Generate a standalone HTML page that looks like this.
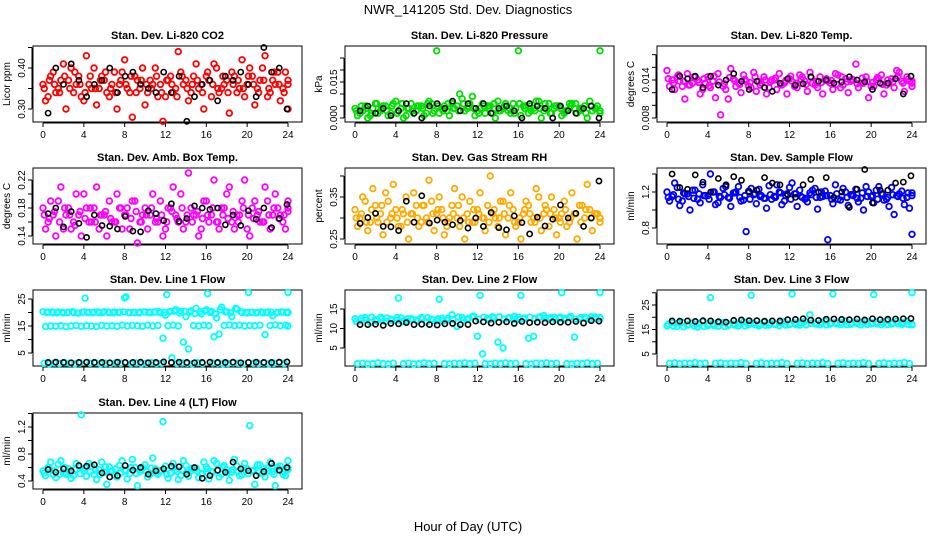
<!DOCTYPE html>
<html><head><meta charset="utf-8"><style>
body{margin:0;background:#fff}
svg{display:block;font-family:"Liberation Sans",sans-serif}
</style></head><body>
<svg id="chart" width="936" height="540" viewBox="0 0 936 540">
<text x="468" y="14" text-anchor="middle" font-size="13">NWR_141205  Std. Dev. Diagnostics</text>
<text x="468" y="531" text-anchor="middle" font-size="13">Hour of Day (UTC)</text>
</svg>
<script>
const xTicks=[0,4,8,12,16,20,24];
const co2A=[0.36,0.33,0.39,0.35,0.41,0.37,0.34,0.38,0.32,0.36,0.40,0.35,0.37,0.33,0.39,0.36,0.42,0.34,0.38,0.35,0.31,0.37,0.40,0.36,0.33,0.38,0.35,0.39,0.37,0.34,0.41,0.36,0.38,0.33,0.40,0.35,0.37,0.39,0.34,0.42,0.36,0.38,0.35,0.40,0.33,0.37,0.39,0.35,0.36];
const co2B=[0.32,0.38,0.34,0.37,0.30,0.40,0.36,0.33,0.43,0.35,0.31,0.38,0.34,0.36,0.30,0.39,0.35,0.28,0.37,0.40,0.34,0.36,0.33,0.27,0.37,0.34,0.44,0.36,0.32,0.38,0.35,0.30,0.37,0.41,0.34,0.36,0.29,0.38,0.35,0.33,0.40,0.31,0.37,0.43,0.34,0.36,0.32,0.39,0.30];
const co2C=[0.35,0.37,0.36,0.34,0.38,0.35,0.39,0.36,0.34,0.38,0.35,0.37,0.39,0.35,0.34,0.37,0.36,0.38,0.34,0.37,0.36,0.35,0.38,0.34,0.37,0.36,0.33,0.38,0.35,0.36,0.37,0.34,0.39,0.36,0.35,0.38,0.34,0.36,0.37,0.35,0.38,0.36,0.34,0.37,0.35,0.39,0.36,0.34,0.37];
const co2K=[0.29,0.40,0.36,0.41,0.37,0.33,0.36,0.37,0.40,0.34,0.38,0.39,0.36,0.35,0.34,0.39,0.34,0.38,0.27,0.33,0.36,0.37,0.32,0.38,0.37,0.39,0.36,0.33,0.45,0.39,0.40,0.30];
const presA=[.004,.002,.005,.001,.006,.003,.005,.002,.007,.004,.001,.006,.003,.005,.002,.006,.028,.004,.003,.006,.005,.008,.004,.009,.003,.006,.005,.002,.007,.004,.003,.006,.028,.005,.002,.004,.007,.003,.006,.004,.005,.002,.006,.004,.003,.005,.007,.004,.028];
const presB=[.001,.003,.000,.004,.002,.005,.001,.006,.003,.000,.004,.002,.005,.001,.007,.003,.002,.005,.001,.004,.010,.003,.006,.001,.004,.002,.005,.000,.003,.006,.002,.004,.001,.005,.003,.007,.000,.004,.002,.005,.001,.003,.006,.002,.004,.000,.003,.005,.002];
const presC=[.003,.005,.004,.002,.006,.004,.003,.005,.002,.006,.004,.003,.005,.004,.006,.002,.005,.003,.006,.004,.003,.006,.005,.004,.002,.005,.004,.006,.003,.005,.004,.002,.006,.004,.005,.003,.004,.006,.002,.005,.004,.003,.005,.006,.004,.002,.005,.004,.003];
const presK=[.003,.005,.002,.004,.001,.003,.006,.002,.000,.005,.006,.004,.007,.003,.006,.004,.006,.002,.004,.005,.003,.000,.006,.005,.004,.000,.005,.003,.002,.004,.005,.000];
const tempA=[.0155,.014,.0145,.013,.015,.0135,.014,.0125,.0145,.0138,.015,.013,.011,.0142,.0135,.0148,.013,.0152,.0138,.0145,.0128,.014,.015,.0135,.0142,.013,.0148,.0138,.0152,.0132,.0145,.014,.0135,.015,.0128,.0142,.0138,.0165,.0135,.0145,.013,.014,.0148,.0132,.0142,.0155,.0138,.0145,.0135];
const tempB=[.013,.0125,.0138,.011,.0132,.0145,.0118,.0135,.0128,.0112,.0085,.0125,.0158,.013,.012,.0138,.0128,.0122,.0135,.0118,.014,.0125,.0132,.0118,.0138,.0128,.0145,.0122,.0135,.0128,.0118,.0138,.0125,.0148,.0132,.012,.014,.0128,.0135,.0112,.013,.0142,.0118,.0135,.0128,.0152,.0122,.0138,.013];
const tempC=[.0142,.0135,.0148,.0138,.0132,.0145,.0136,.0142,.0131,.0146,.0137,.0134,.0144,.0139,.0133,.0141,.0136,.0145,.0132,.0140,.0137,.0143,.0134,.0139,.0146,.0135,.0141,.0133,.0144,.0138,.0136,.0142,.0139,.0133,.0145,.0137,.0141,.0134,.0143,.0138,.0136,.0144,.0133,.0140,.0137,.0146,.0135,.0141,.0138];
const tempK=[.0125,.0146,.0142,.0146,.0128,.0146,.0132,.0140,.0150,.0138,.0125,.0138,.0128,.0122,.0135,.0142,.0132,.0134,.0145,.0138,.0140,.0135,.0137,.0145,.0140,.0137,.0125,.0135,.0135,.0142,.0118,.0146];
const ambA=[.18,.16,.17,.19,.15,.18,.16,.17,.20,.16,.18,.15,.17,.19,.16,.18,.17,.15,.19,.16,.18,.17,.16,.19,.15,.18,.17,.20,.16,.18,.17,.15,.19,.17,.16,.18,.20,.16,.17,.19,.15,.18,.17,.16,.19,.17,.18,.16,.18];
const ambB=[.15,.19,.14,.21,.17,.15,.20,.14,.18,.16,.21,.17,.14,.16,.20,.15,.18,.19,.13,.17,.15,.20,.16,.14,.18,.21,.16,.15,.23,.17,.14,.19,.16,.22,.15,.18,.21,.15,.17,.22,.14,.19,.16,.21,.15,.20,.17,.15,.19];
const ambC=[.17,.165,.175,.16,.18,.17,.155,.175,.165,.18,.16,.17,.175,.165,.16,.18,.17,.165,.175,.16,.17,.18,.165,.17,.16,.175,.165,.18,.17,.16,.175,.165,.17,.18,.16,.17,.165,.175,.16,.18,.17,.165,.175,.16,.17,.18,.165,.17,.175];
const ambK=[.172,.18,.153,.175,.158,.138,.17,.155,.154,.15,.168,.147,.146,.176,.172,.162,.186,.161,.165,.183,.18,.178,.18,.156,.17,.155,.176,.164,.18,.152,.165,.185];
const rhA=[.32,.30,.34,.29,.33,.31,.36,.30,.32,.28,.35,.31,.33,.29,.30,.34,.31,.32,.28,.33,.30,.35,.31,.29,.32,.30,.33,.31,.28,.34,.30,.32,.29,.31,.33,.30,.35,.31,.28,.32,.30,.34,.29,.31,.33,.30,.32,.31,.30];
const rhB=[.28,.35,.27,.37,.29,.26,.34,.38,.28,.31,.25,.36,.28,.33,.39,.27,.35,.26,.30,.37,.28,.25,.34,.29,.36,.27,.40,.30,.34,.26,.36,.28,.25,.34,.29,.37,.27,.32,.35,.26,.31,.28,.36,.25,.33,.38,.27,.31,.29];
const rhC=[.30,.31,.29,.32,.30,.33,.29,.31,.30,.32,.29,.31,.30,.33,.29,.31,.32,.30,.29,.31,.33,.30,.29,.32,.31,.30,.29,.32,.30,.31,.33,.29,.30,.32,.31,.29,.30,.33,.31,.30,.29,.32,.30,.31,.29,.32,.30,.31,.30];
const rhK=[.287,.301,.311,.28,.279,.27,.34,.29,.353,.288,.295,.29,.284,.294,.276,.30,.28,.313,.277,.272,.305,.289,.262,.302,.281,.297,.331,.30,.311,.28,.30,.388];
const flowA=[1.20,1.15,1.25,1.10,1.18,1.22,1.12,1.28,1.16,1.20,1.08,1.24,1.14,1.19,1.26,1.11,1.21,1.17,1.23,1.13,1.27,1.15,1.20,1.10,1.25,1.18,1.22,1.12,1.19,1.24,1.14,1.21,1.16,1.28,1.11,1.20,1.17,1.23,1.13,1.26,1.15,1.22,1.18,1.12,1.25,1.16,1.21,1.14,1.19];
const flowB=[1.10,1.30,1.05,1.18,1.00,1.22,1.08,1.16,1.40,1.06,1.14,1.26,1.04,1.20,1.10,0.76,1.24,1.07,1.16,1.02,1.12,1.28,1.06,1.18,1.30,1.04,1.14,1.09,1.22,1.01,1.15,0.67,1.07,1.12,1.24,1.05,1.16,1.09,1.00,1.20,1.08,1.26,1.11,1.04,0.95,1.18,1.06,1.02,0.73];
const flowC=[1.14,1.17,1.12,1.19,1.15,1.13,1.18,1.16,1.12,1.20,1.15,1.17,1.13,1.19,1.14,1.16,1.12,1.18,1.15,1.13,1.17,1.14,1.19,1.16,1.12,1.18,1.15,1.13,1.17,1.14,1.20,1.16,1.12,1.18,1.15,1.14,1.17,1.13,1.19,1.15,1.16,1.12,1.18,1.14,1.17,1.15,1.13,1.19,1.16];
const flowK=[1.40,1.25,1.23,1.39,1.31,1.20,1.35,1.28,1.37,1.33,1.20,1.22,1.36,1.30,1.28,1.17,1.14,1.28,1.34,1.20,1.36,1.14,1.20,1.03,1.23,1.45,1.08,1.22,1.22,1.30,1.31,1.38];
const l1A=[20.3,20.1,20.0,20.2,19.9,20.1,20.0,19.8,20.2,20.0,20.1,19.9,20.3,20.0,20.2,20.1,25.4,19.9,20.0,20.1,20.2,20.0,20.3,19.9,19.0,20.4,21.0,20.5,18.5,20.6,21.5,19.5,21.0,20.5,18.0,22.0,20.3,18.5,21.2,20.0,19.8,20.1,20.0,19.9,20.2,18.8,20.0,20.1,20.0];
const l1B=[14.8,15.0,14.9,15.1,14.8,15.0,15.2,14.9,15.1,15.0,14.8,15.2,15.0,15.1,14.9,15.3,15.0,15.2,15.1,14.9,15.3,15.0,15.2,10.5,15.1,15.3,15.0,9.0,6.5,15.2,15.0,15.3,15.1,11.0,12.0,15.2,15.4,15.1,15.3,15.0,15.2,15.1,15.3,11.8,15.2,15.4,15.1,15.3,15.0];
const l1C=[1.2,1.0,1.3,1.1,1.4,1.2,1.0,1.3,25.3,1.2,1.4,1.0,1.2,1.1,1.3,1.2,25.8,1.1,1.3,1.0,1.2,1.4,1.1,1.2,26.6,3.2,1.1,1.3,1.2,1.0,1.4,1.1,27.0,1.3,1.2,1.0,1.1,1.3,1.2,1.0,27.4,1.2,1.1,1.3,1.0,1.2,1.4,1.1,27.4];
const l1D=[20.0,20.2,19.9,20.1,20.0,20.3,19.8,20.1,20.0,19.9,20.2,20.0,20.1,19.9,20.0,20.2,20.0,20.1,19.9,20.2,20.0,20.1,20.3,20.0,20.2,20.5,19.8,20.4,20.1,19.6,20.3,20.6,20.0,19.5,21.0,20.2,19.9,21.5,20.3,20.0,20.1,19.9,20.2,20.0,20.1,19.9,20.2,20.0,20.1];
const l1K=[1.5,1.6,1.5,1.4,1.5,1.6,1.5,1.5,1.4,1.6,1.5,1.5,1.6,1.4,1.5,1.7,1.5,1.6,1.5,1.4,1.5,1.6,1.5,1.5,1.6,1.4,1.5,1.6,1.5,1.5,1.6,1.7];
const l2A=[12.5,12.0,12.8,11.6,12.3,12.9,11.8,12.4,12.1,12.7,11.9,12.5,12.2,12.8,11.7,12.4,12.0,12.6,12.2,13.5,10.5,12.8,12.3,13.0,8.0,3.5,12.6,13.0,6.5,5.0,12.7,12.3,12.9,12.5,7.5,8.0,12.8,13.3,12.4,12.9,12.6,12.2,12.8,7.8,12.5,12.9,12.3,13.0,12.6];
const l2B=[1.0,1.1,0.9,1.0,1.2,1.0,0.9,1.1,17.8,1.0,1.1,0.9,1.0,1.2,1.0,1.1,17.5,1.0,0.9,1.1,1.0,1.2,1.0,1.1,18.5,1.0,0.9,1.1,1.0,1.2,1.0,1.1,18.5,1.0,0.9,1.1,1.0,1.2,1.0,1.1,19.2,1.0,0.9,1.1,1.0,1.2,1.0,1.1,19.2];
const l2C=[11.8,12.6,12.2,12.9,11.9,12.4,12.7,12.1,12.8,11.8,12.5,12.3,11.9,12.6,12.8,12.1,12.5,11.9,12.7,12.3,12.9,12.2,12.6,13.2,12.4,12.9,12.2,12.7,13.0,12.4,12.8,13.1,12.3,12.7,12.9,12.5,13.0,12.6,12.8,12.3,12.9,12.6,13.1,12.4,12.8,12.6,13.0,12.5,12.8];
const l2K=[11.0,11.0,11.1,10.8,11.3,11.2,11.5,11.0,11.1,11.0,10.9,11.2,11.3,11.0,11.0,11.9,11.7,11.4,11.6,11.7,11.3,11.8,11.5,11.6,11.5,11.7,11.6,11.6,11.8,11.4,12.0,11.9];
const l3A=[16.5,17.8,16.2,18.0,16.8,17.5,16.0,18.2,16.6,17.4,16.3,17.9,16.7,17.2,16.4,18.1,16.9,17.6,16.5,18.0,16.8,17.3,16.6,18.2,17.0,17.7,16.8,18.3,21.0,17.5,16.9,18.4,17.2,17.8,17.0,18.5,17.1,18.0,16.9,18.4,17.3,18.1,17.0,18.6,17.2,18.3,17.1,18.5,17.2];
const l3B=[1.2,1.4,1.1,1.3,1.2,1.5,1.1,1.3,28.0,1.2,1.4,1.1,1.3,1.2,1.5,1.1,29.0,1.2,1.4,1.1,1.3,1.2,1.5,1.1,29.5,1.2,1.4,1.1,1.3,1.2,1.5,1.1,29.5,1.2,1.4,1.1,1.3,1.2,1.5,1.1,29.3,1.2,1.4,1.1,1.3,1.2,1.5,1.1,30.0];
const l3C=[17.2,16.4,17.6,16.1,17.0,16.5,17.5,16.3,17.3,16.6,17.7,16.2,17.1,16.8,17.4,16.5,17.6,16.9,17.2,16.7,17.5,17.0,17.8,16.8,17.4,17.1,17.7,16.9,17.5,17.2,17.9,16.9,17.6,17.3,17.8,17.0,17.6,17.4,17.9,17.1,17.7,17.3,17.9,17.0,17.6,17.4,17.8,17.1,16.9];
const l3K=[18.5,18.4,18.5,18.3,18.6,18.5,18.2,18.0,18.7,18.9,18.6,18.6,18.4,18.5,18.5,19.0,19.1,19.4,18.8,18.7,19.2,19.3,19.1,19.0,19.3,18.9,19.4,19.0,19.2,19.3,19.4,19.5];
const l4A=[0.55,0.60,0.50,0.65,0.52,0.58,0.48,0.62,0.55,0.66,0.50,0.57,0.53,0.61,0.49,0.63,0.56,0.51,0.60,0.54,0.64,0.50,0.58,0.55,0.62,0.52,0.57,0.48,0.63,0.55,0.59,0.51,0.61,0.54,0.66,0.50,0.57,0.53,0.62,0.49,0.58,0.55,0.64,0.51,0.59,0.54,0.61,0.50,0.57];
const l4B=[0.48,0.68,0.45,0.70,0.50,0.44,0.66,1.38,0.47,0.62,0.42,0.68,0.35,0.55,0.46,0.70,0.43,0.72,0.33,0.60,0.46,0.74,0.50,1.28,0.44,0.66,0.42,0.70,0.47,0.58,0.45,0.68,0.43,0.70,0.46,0.63,0.41,0.72,0.48,0.66,1.22,0.35,0.64,0.46,0.68,0.33,0.62,0.48,0.70];
const l4C=[0.52,0.58,0.55,0.50,0.60,0.53,0.57,0.51,0.59,0.54,0.56,0.50,0.61,0.53,0.58,0.52,0.55,0.60,0.51,0.57,0.54,0.59,0.52,0.56,0.50,0.60,0.54,0.57,0.52,0.59,0.55,0.51,0.58,0.53,0.56,0.60,0.52,0.57,0.54,0.59,0.51,0.56,0.53,0.58,0.55,0.50,0.57,0.54,0.59];
const l4K=[0.57,0.53,0.58,0.55,0.63,0.62,0.64,0.52,0.46,0.48,0.63,0.56,0.60,0.50,0.55,0.58,0.62,0.61,0.50,0.60,0.44,0.48,0.56,0.53,0.68,0.58,0.55,0.48,0.54,0.66,0.56,0.60];

const cols=[33,345,657], rows=[46,168,290,413], W=269, H=76;
const offsets=[0,0.25,0.125,0.375];
const panels=[
 {name:'co2',title:'Stan. Dev. Li-820 CO2',ylab:'Licor ppm',c:0,r:0,v1:0.30,p1:63,v2:0.40,p2:22,ticks:[0.30,0.35,0.40,0.45],labels:['0.30','','0.40',''],series:[co2A,co2B,co2C],color:'#ff0000',black:co2K},
 {name:'pressure',title:'Stan. Dev. Li-820 Pressure',ylab:'kPa',c:1,r:0,v1:0,p1:72,v2:0.015,p2:36,ticks:[0,0.005,0.01,0.015,0.02,0.025],labels:['0.000','','','0.015','',''],series:[presA,presB,presC],color:'#00e000',black:presK},
 {name:'temp',title:'Stan. Dev. Li-820 Temp.',ylab:'degrees C',c:2,r:0,v1:0.008,p1:72,v2:0.014,p2:34,ticks:[0.008,0.010,0.012,0.014,0.016,0.018],labels:['0.008','','','0.014','',''],series:[tempA,tempB,tempC],color:'#ff00ff',black:tempK},
 {name:'amb-box',title:'Stan. Dev. Amb. Box Temp.',ylab:'degrees C',c:0,r:1,v1:0.14,p1:68,v2:0.22,p2:12,ticks:[0.14,0.16,0.18,0.20,0.22],labels:['0.14','','0.18','','0.22'],series:[ambA,ambB,ambC],color:'#ff00ff',black:ambK},
 {name:'rh',title:'Stan. Dev. Gas Stream RH',ylab:'percent',c:1,r:1,v1:0.25,p1:71,v2:0.35,p2:29,ticks:[0.25,0.30,0.35,0.40],labels:['0.25','','0.35',''],series:[rhA,rhB,rhC],color:'#ffaa00',black:rhK},
 {name:'sample-flow',title:'Stan. Dev. Sample Flow',ylab:'ml/min',c:2,r:1,v1:0.8,p1:60,v2:1.2,p2:24,ticks:[0.8,1.0,1.2,1.4],labels:['0.8','','1.2',''],series:[flowA,flowB,flowC],color:'#0000ff',black:flowK},
 {name:'line1',title:'Stan. Dev. Line 1 Flow',ylab:'ml/min',c:0,r:2,v1:5,p1:63,v2:25,p2:9,ticks:[5,10,15,20,25],labels:['5','','15','','25'],series:[l1A,l1B,l1C,l1D],color:'#00ffff',black:l1K},
 {name:'line2',title:'Stan. Dev. Line 2 Flow',ylab:'ml/min',c:1,r:2,v1:5,p1:58,v2:15,p2:19,ticks:[5,10,15],labels:['5','10','15'],series:[l2A,l2B,l2C],color:'#00ffff',black:l2K},
 {name:'line3',title:'Stan. Dev. Line 3 Flow',ylab:'ml/min',c:2,r:2,v1:5,p1:64,v2:25,p2:15,ticks:[5,10,15,20,25,30],labels:['5','','15','','25',''],series:[l3A,l3B,l3C],color:'#00ffff',black:l3K},
 {name:'line4',title:'Stan. Dev. Line 4 (LT) Flow',ylab:'ml/min',c:0,r:3,v1:0.4,p1:68,v2:1.2,p2:14,ticks:[0.4,0.6,0.8,1.0,1.2,1.4],labels:['0.4','','0.8','','1.2',''],series:[l4A,l4B,l4C],color:'#00ffff',black:l4K}
];
const NS='http://www.w3.org/2000/svg', svg=document.getElementById('chart');
function mk(tag,attrs,parent){const e=document.createElementNS(NS,tag);for(const k in attrs)e.setAttribute(k,attrs[k]);parent.appendChild(e);return e;}
panels.forEach(p=>{
  const L=cols[p.c],T=rows[p.r];
  const g=mk('g',{},svg);
  
  
  const xs=h=>L+10+h*(245/24);
  const ys=v=>T+p.p1+(v-p.v1)*(p.p2-p.p1)/(p.v2-p.v1);
  const box=mk('rect',{x:L,y:T,width:W,height:H,fill:'none',stroke:'#000','stroke-width':1},g);
  
  
  const t=mk('text',{x:L+W/2,y:T-7,'text-anchor':'middle','font-size':11,'font-weight':'bold'},g);
  t.textContent=p.title;
  
  
  const yl=mk('text',{x:0,y:0,'text-anchor':'middle','font-size':10,transform:`translate(${L-23},${T+H/2}) rotate(-90)`},g);
  yl.textContent=p.ylab;
  
  
  mk('line',{x1:xs(0),x2:xs(24),y1:T+H+1,y2:T+H+1,stroke:'#000'},g);
  xTicks.forEach(h=>{
    mk('line',{x1:xs(h),x2:xs(h),y1:T+H+1,y2:T+H+5,stroke:'#000'},g);
    const tx=mk('text',{x:xs(h),y:T+H+16,'text-anchor':'middle','font-size':10},g);
    tx.textContent=h;
    
    
  });
  const y0=ys(p.ticks[0]),y1=ys(p.ticks[p.ticks.length-1]);
  mk('line',{x1:L-1,x2:L-1,y1:y0,y2:y1,stroke:'#000'},g);
  p.ticks.forEach((v,i)=>{
    mk('line',{x1:L-5,x2:L-1,y1:ys(v),y2:ys(v),stroke:'#000'},g);
    if(p.labels[i]){
      const ty=mk('text',{x:0,y:0,'text-anchor':'middle','font-size':10,transform:`translate(${L-8},${ys(v)}) rotate(-90)`},g);
      ty.textContent=p.labels[i];
      
      
    }
  });
  p.series.forEach((arr,si)=>{
    const off=offsets[si%4];
    arr.forEach((v,i)=>{
      const h=Math.min(24,off+i*24/(arr.length-1));
      const c=mk('circle',{cx:xs(h),cy:ys(v),r:2.8,fill:'none',stroke:p.color,'stroke-width':1.8},g);
      
      
    });
  });
  p.black.forEach((v,i)=>{
    const h=0.5+i*23.4/(p.black.length-1);
    const c=mk('circle',{cx:xs(h),cy:ys(v),r:2.6,fill:'none',stroke:'#000','stroke-width':1.6},g);
    
    
  });
});
</script>
</body></html>
